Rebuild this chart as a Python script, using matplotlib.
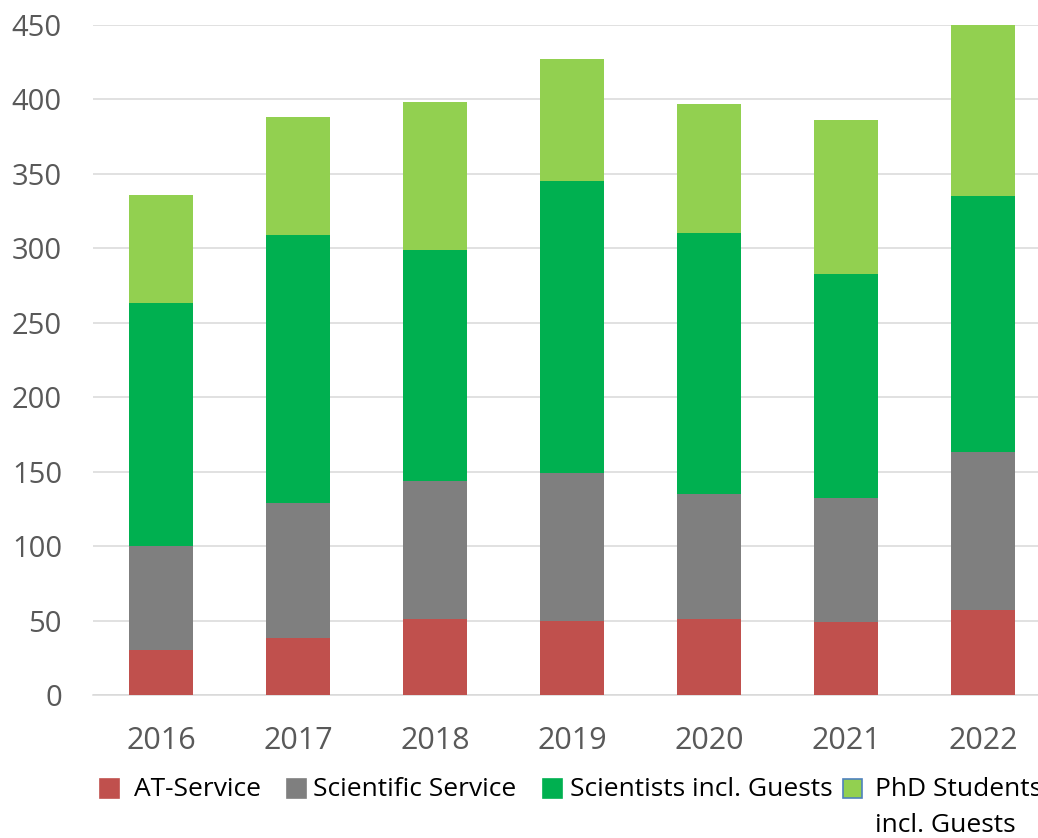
import numpy as np
import matplotlib.pyplot as plt
from matplotlib.patches import Rectangle

plt.rcParams['font.family'] = ['Open Sans', 'DejaVu Sans']

years = ['2016', '2017', '2018', '2019', '2020', '2021', '2022']
at_service = [30, 38, 51, 50, 51, 49, 57]
sci_service = [70, 91, 93, 99, 84, 83, 106]
scientists = [163, 180, 155, 196, 175, 151, 172]
phd = [73, 79, 99, 82, 87, 103, 115]

labels = ['AT-Service', 'Scientific Service', 'Scientists incl. Guests', 'PhD Students\nincl. Guests']
colors = ['#C0504D', '#7F7F7F', '#00B050', '#92D050']
series = [at_service, sci_service, scientists, phd]

W, H = 1038, 838
fig = plt.figure(figsize=(W / 100, H / 100), dpi=100)
# axes runs a bit past the right edge, like the cropped original
ax = fig.add_axes([92.5 / W, 143 / H, 959 / W, 670 / H])

x = np.arange(len(years))
bottom = np.zeros(len(years))
for vals, c in zip(series, colors):
    ax.bar(x, vals, width=0.46, bottom=bottom, color=c, zorder=3)
    bottom += np.array(vals)

ax.set_xlim(-0.5, 6.5)
ax.set_ylim(0, 450)
ax.set_yticks(np.arange(0, 451, 50))
ax.set_xticks(x)
ax.set_xticklabels(years)
ax.grid(axis='y', color='#d9d9d9', linewidth=1.1, zorder=0)
for s in ['top', 'right', 'left']:
    ax.spines[s].set_visible(False)
ax.spines['bottom'].set_color('#d9d9d9')
ax.spines['bottom'].set_linewidth(1.1)
ax.tick_params(axis='both', length=0, labelcolor='#595959')
ax.tick_params(axis='y', pad=22, labelsize=21)
ax.tick_params(axis='x', pad=22, labelsize=22)

# legend drawn by hand, Excel style (last label wraps under itself)
mark_x = [100, 287, 543, 843]
text_x = [134, 313, 570, 875]
for mx, tx, lab, c in zip(mark_x, text_x, labels, colors):
    ec = '#4F81BD' if lab.startswith('PhD') else c
    fig.patches.append(Rectangle((mx / W, (H - 798) / H), 19 / W, 19 / H,
                                 transform=fig.transFigure, facecolor=c,
                                 edgecolor=ec, linewidth=1.2))
    if '\n' in lab:
        fig.text(tx / W, (H - 777) / H, lab, fontsize=19, color='black',
                 ha='left', va='top', linespacing=1.6)
    else:
        fig.text(tx / W, (H - 789) / H, lab, fontsize=19, color='black',
                 ha='left', va='center')

plt.savefig('out.png', dpi=100)
